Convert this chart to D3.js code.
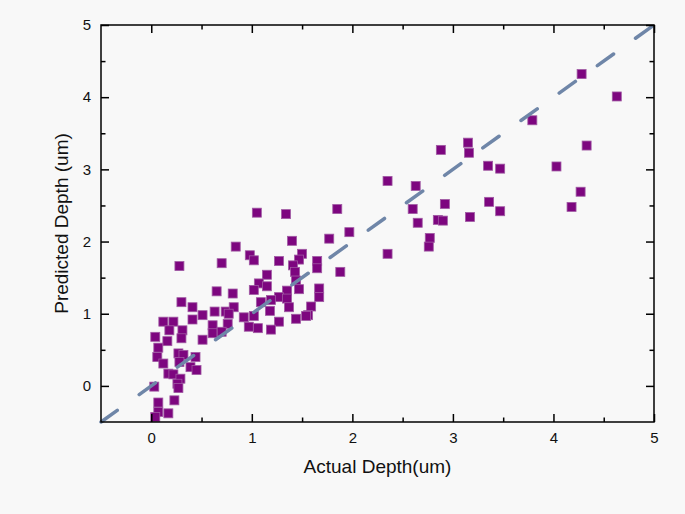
<!DOCTYPE html>
<html>
<head>
<meta charset="utf-8">
<script src="https://cdn.jsdelivr.net/npm/d3@7"></script>
<style>
  body { margin: 0; background: #f8f8f8; }
  svg { display: block; }
  text { font-family: "Liberation Sans", Arial, sans-serif; fill: #111; }
</style>
</head>
<body>
<div id="chart"></div>
<script>
const W = 685, H = 514;
const margin = {left: 101, top: 25, right: 31, bottom: 92};

const xDomain = [-0.5, 5];
const yDomain = [-0.5, 5];
const majorTicks = [0, 1, 2, 3, 4, 5];
const minorTicks = [0.5, 1.5, 2.5, 3.5, 4.5];
const xTitle = "Actual Depth(um)";
const yTitle = "Predicted Depth (um)";

// point by point
const actualDepth = [
  4.63, 4.28, 3.79, 4.33, 3.35, 3.47, 4.03, 4.27, 3.36, 3.47, 4.18,
  2.88, 3.15, 3.16, 2.35, 2.63, 2.92, 2.60, 2.65, 2.85, 2.90, 3.17, 2.77, 2.76, 2.35,
  1.05, 1.34, 1.85, 1.97, 1.77, 1.40, 0.84, 0.98, 1.02, 1.27, 1.50, 1.47, 1.65, 1.65,
  1.41, 1.43, 1.88, 1.15, 1.44, 1.47, 1.67, 1.67, 1.07, 1.15, 1.02, 1.35, 1.27, 1.35,
  1.19, 1.09, 1.37, 1.59, 1.56, 1.18, 1.02, 0.92, 1.44, 1.54, 1.27, 0.97, 1.06, 1.19,
  0.28, 0.70, 0.30, 0.65, 0.81, 0.41, 0.51, 0.41, 0.63, 0.74, 0.82, 0.76, 0.61, 0.61,
  0.70, 0.12, 0.22, 0.18, 0.31, 0.04, 0.16, 0.30, 0.51, 0.07, 0.06, 0.12, 0.27, 0.32,
  0.28, 0.39, 0.45, 0.44, 0.17, 0.22, 0.29, 0.26, 0.27, 0.03, 0.23, 0.07, 0.07, 0.17,
  0.04, 0.77
];
const predictedDepth = [
  4.01, 4.32, 3.68, 3.33, 3.05, 3.01, 3.04, 2.69, 2.55, 2.42, 2.48,
  3.27, 3.37, 3.23, 2.84, 2.77, 2.52, 2.45, 2.26, 2.30, 2.29, 2.34, 2.05, 1.93, 1.83,
  2.40, 2.38, 2.45, 2.13, 2.04, 2.01, 1.93, 1.81, 1.74, 1.73, 1.83, 1.75, 1.73, 1.63,
  1.67, 1.58, 1.58, 1.54, 1.46, 1.34, 1.35, 1.23, 1.42, 1.38, 1.33, 1.32, 1.23, 1.21,
  1.19, 1.16, 1.09, 1.10, 0.98, 1.04, 0.97, 0.95, 0.93, 0.97, 0.89, 0.82, 0.80, 0.78,
  1.66, 1.70, 1.16, 1.31, 1.28, 1.09, 0.98, 0.92, 1.03, 1.03, 1.09, 0.86, 0.84, 0.73,
  0.75, 0.89, 0.89, 0.77, 0.77, 0.68, 0.62, 0.66, 0.64, 0.53, 0.40, 0.31, 0.45, 0.43,
  0.33, 0.26, 0.22, 0.40, 0.17, 0.16, 0.10, 0.03, -0.03, -0.01, -0.20, -0.23, -0.36, -0.38,
  -0.43, 1.00
];

const fitLine = [[-0.5, -0.5], [5, 5]];

const colorPoint = "#7d067f";
const colorPointEdge = "#a05aa3";
const colorFit = "#6f86a8";
const markSize = 9;

const width = W - margin.left - margin.right;
const height = H - margin.top - margin.bottom;

const svg = d3.select("#chart").append("svg")
  .attr("width", W)
  .attr("height", H);

svg.append("rect")
  .attr("width", W).attr("height", H)
  .attr("fill", "#f8f8f8");

const g = svg.append("g")
  .attr("transform", `translate(${margin.left},${margin.top})`);

const x = d3.scaleLinear().domain(xDomain).range([0, width]);
const y = d3.scaleLinear().domain(yDomain).range([height, 0]);

const points = actualDepth.map((a, i) => ({a: a, p: predictedDepth[i]}));

g.append("g").attr("class", "points")
  .selectAll("rect")
  .data(points)
  .enter()
  .append("rect")
  .attr("x", d => x(d.a) - markSize / 2)
  .attr("y", d => y(d.p) - markSize / 2)
  .attr("width", markSize)
  .attr("height", markSize)
  .attr("fill", colorPoint)
  .attr("stroke", colorPointEdge)
  .attr("stroke-width", 0.8);

g.append("path")
  .datum(fitLine)
  .attr("d", d3.line().x(d => x(d[0])).y(d => y(d[1])))
  .attr("fill", "none")
  .attr("stroke", colorFit)
  .attr("stroke-width", 3.5)
  .attr("stroke-linecap", "round")
  .attr("stroke-dasharray", "20 27");

// axes: majors with labels on bottom/left, ticks point inward on all four sides
function styleAxis(sel) {
  sel.select(".domain").remove();
  sel.selectAll(".tick line").attr("stroke", "#000").attr("stroke-width", 1.5);
  sel.selectAll(".tick text").style("font-size", "15px").attr("fill", "#111");
}

g.append("g").attr("transform", `translate(0,${height})`)
  .call(d3.axisBottom(x).tickValues(majorTicks).tickSize(-8).tickPadding(10).tickFormat(d3.format("d")))
  .call(styleAxis);
g.append("g").attr("transform", `translate(0,${height})`)
  .call(d3.axisBottom(x).tickValues(minorTicks).tickSize(-4.5).tickFormat(""))
  .call(styleAxis);
g.append("g")
  .call(d3.axisTop(x).tickValues(majorTicks).tickSize(-8).tickFormat(""))
  .call(styleAxis);
g.append("g")
  .call(d3.axisTop(x).tickValues(minorTicks).tickSize(-4.5).tickFormat(""))
  .call(styleAxis);

g.append("g")
  .call(d3.axisLeft(y).tickValues(majorTicks).tickSize(-8).tickPadding(10).tickFormat(d3.format("d")))
  .call(styleAxis);
g.append("g")
  .call(d3.axisLeft(y).tickValues(minorTicks).tickSize(-4.5).tickFormat(""))
  .call(styleAxis);
g.append("g").attr("transform", `translate(${width},0)`)
  .call(d3.axisRight(y).tickValues(majorTicks).tickSize(-8).tickFormat(""))
  .call(styleAxis);
g.append("g").attr("transform", `translate(${width},0)`)
  .call(d3.axisRight(y).tickValues(minorTicks).tickSize(-4.5).tickFormat(""))
  .call(styleAxis);

g.append("rect")
  .attr("width", width).attr("height", height)
  .attr("fill", "none")
  .attr("stroke", "#000")
  .attr("stroke-width", 1.5);

g.append("text")
  .attr("x", width / 2)
  .attr("y", height + 51)
  .attr("text-anchor", "middle")
  .style("font-size", "19px")
  .text(xTitle);

g.append("text")
  .attr("transform", `translate(-33,${height / 2}) rotate(-90)`)
  .attr("text-anchor", "middle")
  .style("font-size", "19px")
  .text(yTitle);
</script>
</body>
</html>
